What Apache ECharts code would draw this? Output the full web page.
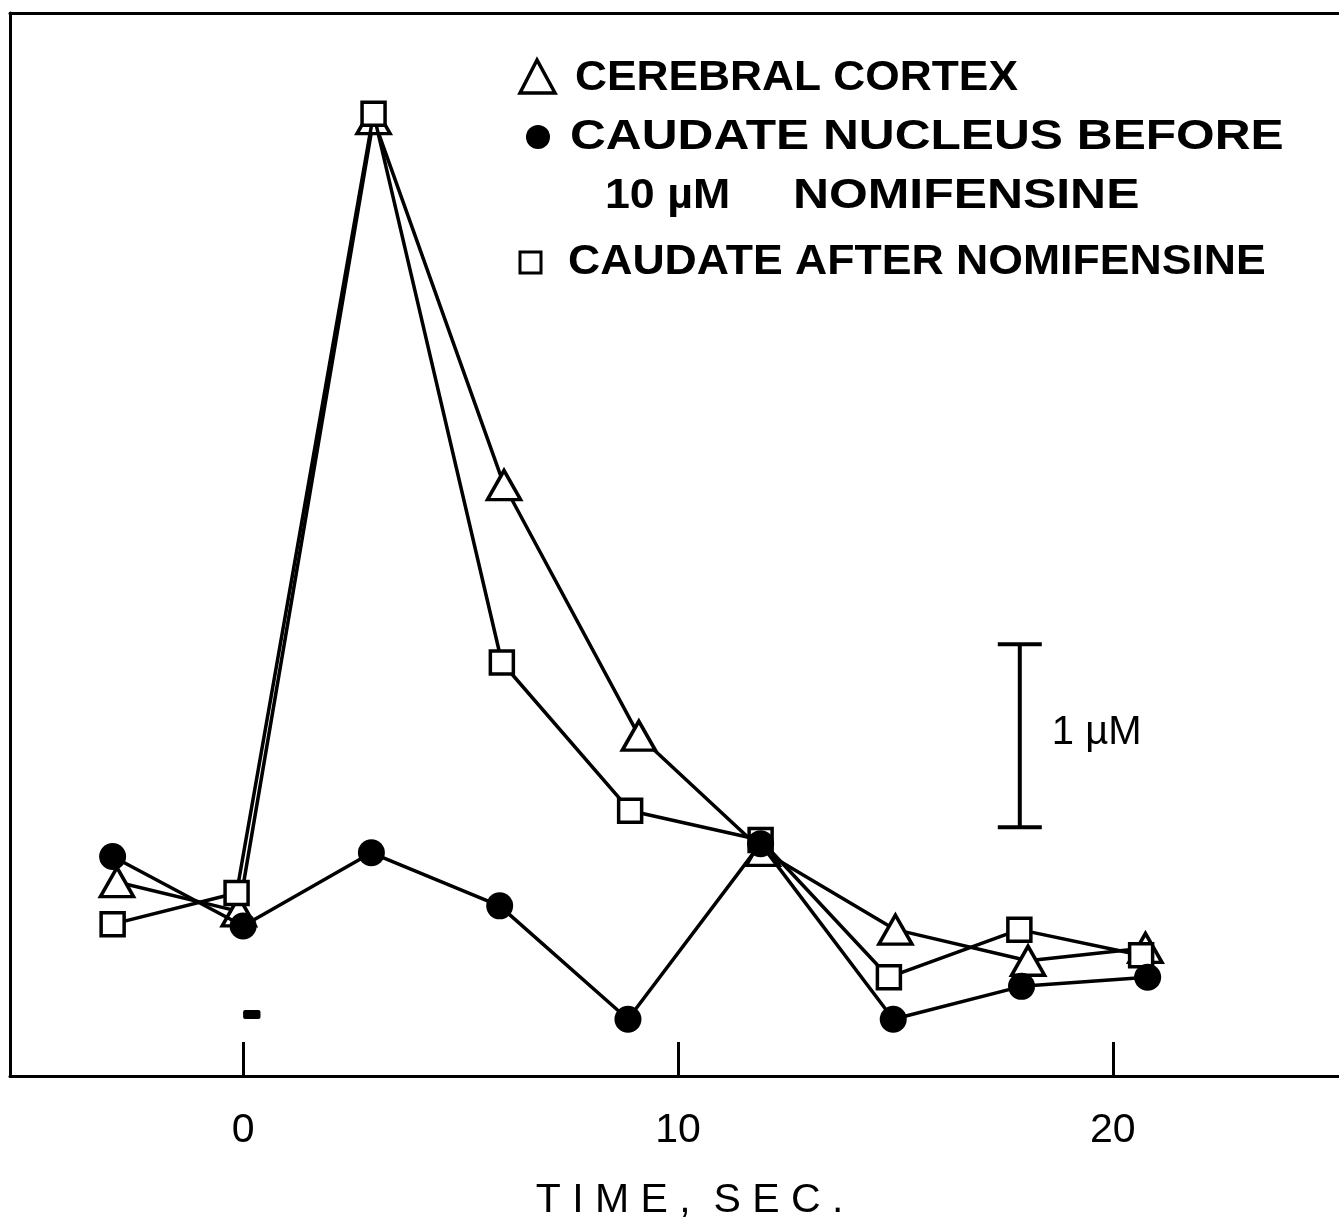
<!DOCTYPE html>
<html>
<head>
<meta charset="utf-8">
<script src="https://cdn.jsdelivr.net/npm/echarts@6/dist/echarts.min.js"></script>
<style>
  html, body { margin: 0; padding: 0; background: #fff; }
  #chart { width: 1339px; height: 1226px; }
</style>
</head>
<body>
<div id="chart"></div>
<script>
// time (s) and concentration (µM above baseline)
const cortexTime = [-2.9, -0.1, 3.0, 6.0, 9.1, 11.95, 15.0, 18.05, 20.75]
const cortexConc = [1.06, 0.90, 5.23, 3.23, 1.86, 1.23, 0.80, 0.63, 0.70]
const beforeTime = [-3.0, 0.0, 2.95, 5.9, 8.85, 11.9, 14.95, 17.9, 20.8]
const beforeConc = [1.20, 0.82, 1.22, 0.93, 0.31, 1.27, 0.31, 0.49, 0.54]
const afterTime = [-3.0, -0.15, 3.0, 5.95, 8.9, 11.9, 14.85, 17.85, 20.65]
const afterConc = [0.83, 1.00, 5.26, 2.26, 1.45, 1.29, 0.54, 0.80, 0.66]
const xTicks = [0, 10, 20]
// 1 µM calibration bar: [time, bottom, top]
const scaleBar = [[17.86, 1.36, 2.36]]
// stimulus marker: [start, end, level]
const stimulus = [[0, 0.4, 0.336]]

const pairs = (xs, ys) => xs.map((x, i) => [x, ys[i]])
const FONT = 'Liberation Sans'
const black = '#000'
const legendFont = `bold 43px "${FONT}"`

const chart = echarts.init(document.getElementById('chart'))

const axisCommon = {
  type: 'value',
  min: -5.36,
  max: 25.2,
  splitLine: { show: false },
}

function legendText(text, x, y, scaleX) {
  return { type: 'text', x, y, scaleX, style: { text, font: legendFont, fill: black, verticalAlign: 'middle' } }
}

chart.setOption({
  animation: false,
  backgroundColor: '#fff',
  grid: { left: 10, right: 0, top: 13, bottom: 150 },
  xAxis: [
    {
      ...axisCommon,
      position: 'bottom',
      axisLine: { show: true, lineStyle: { color: black, width: 3 } },
      axisTick: { show: true, inside: true, length: 34, customValues: xTicks, lineStyle: { color: black, width: 3 } },
      axisLabel: { customValues: xTicks, margin: 34, fontSize: 41, color: black, fontFamily: FONT },
      name: 'T I M E ,  S E C .',
      nameLocation: 'middle',
      nameGap: 104,
      nameTextStyle: { fontSize: 41, color: black, fontFamily: FONT, padding: [0, 0, 0, 30] },
    },
    {
      ...axisCommon,
      position: 'top',
      axisLine: { show: true, onZero: false, lineStyle: { color: black, width: 3 } },
      axisTick: { show: false },
      axisLabel: { show: false },
    },
  ],
  yAxis: {
    type: 'value',
    min: 0,
    max: 5.81,
    axisLine: { show: true, onZero: false, lineStyle: { color: black, width: 3 } },
    axisTick: { show: false },
    axisLabel: { show: false },
    splitLine: { show: false },
  },
  graphic: [
    { type: 'polygon', shape: { points: [[537, 60], [520, 93], [555, 93]] }, style: { fill: '#fff', stroke: black, lineWidth: 3.5 } },
    { type: 'circle', shape: { cx: 538, cy: 137, r: 12 }, style: { fill: black } },
    { type: 'rect', shape: { x: 520, y: 252, width: 21, height: 21 }, style: { fill: '#fff', stroke: black, lineWidth: 3 } },
    legendText('CEREBRAL CORTEX', 575, 78, 1.03),
    legendText('CAUDATE NUCLEUS BEFORE', 570, 137, 1.155),
    legendText('10 µM', 605, 196, 1.04),
    legendText('NOMIFENSINE', 793, 196, 1.16),
    legendText('CAUDATE AFTER NOMIFENSINE', 568, 262, 1.037),
  ],
  series: [
    {
      name: 'CEREBRAL CORTEX',
      type: 'line',
      data: pairs(cortexTime, cortexConc),
      symbol: 'triangle',
      symbolSize: [33, 29],
      lineStyle: { color: black, width: 3.5 },
      itemStyle: { color: '#fff', borderColor: black, borderWidth: 3.5 },
      z: 3,
    },
    {
      name: 'CAUDATE AFTER NOMIFENSINE',
      type: 'line',
      data: pairs(afterTime, afterConc),
      symbol: 'rect',
      symbolSize: 23,
      lineStyle: { color: black, width: 3.5 },
      itemStyle: { color: '#fff', borderColor: black, borderWidth: 3.5 },
      z: 4,
    },
    {
      name: 'CAUDATE NUCLEUS BEFORE 10 µM NOMIFENSINE',
      type: 'line',
      data: pairs(beforeTime, beforeConc),
      symbol: 'circle',
      symbolSize: 27,
      lineStyle: { color: black, width: 3.5 },
      itemStyle: { color: black },
      z: 5,
    },
    {
      type: 'custom',
      data: scaleBar,
      renderItem(params, api) {
        const bottom = api.coord([api.value(0), api.value(1)])
        const top = api.coord([api.value(0), api.value(2)])
        const cap = 22
        const style = { stroke: black, lineWidth: 4 }
        return {
          type: 'group',
          children: [
            { type: 'line', shape: { x1: top[0], y1: top[1], x2: bottom[0], y2: bottom[1] }, style },
            { type: 'line', shape: { x1: top[0] - cap, y1: top[1], x2: top[0] + cap, y2: top[1] }, style },
            { type: 'line', shape: { x1: bottom[0] - cap, y1: bottom[1], x2: bottom[0] + cap, y2: bottom[1] }, style },
            {
              type: 'text',
              x: top[0] + 32,
              y: (top[1] + bottom[1]) / 2 - 3,
              style: { text: '1 µM', font: `40px "${FONT}"`, fill: black, verticalAlign: 'middle' },
            },
          ],
        }
      },
    },
    {
      type: 'custom',
      data: stimulus,
      renderItem(params, api) {
        const a = api.coord([api.value(0), api.value(2)])
        const b = api.coord([api.value(1), api.value(2)])
        return {
          type: 'rect',
          shape: { x: a[0], y: a[1] - 4.5, width: b[0] - a[0], height: 9, r: 2 },
          style: { fill: black },
        }
      },
    },
  ],
})
</script>
</body>
</html>
